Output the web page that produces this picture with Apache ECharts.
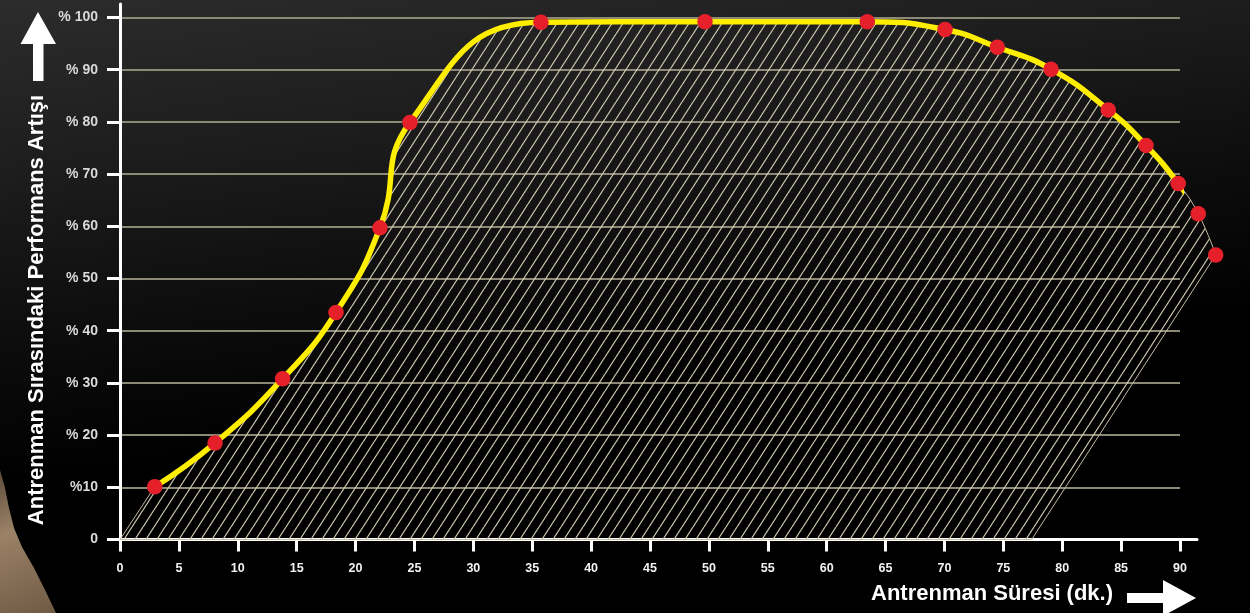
<!DOCTYPE html>
<html>
<head>
<meta charset="utf-8">
<script src="https://cdn.jsdelivr.net/npm/echarts@6/dist/echarts.min.js"></script>
<style>
html,body{margin:0;padding:0;background:#000;}
#c{width:1250px;height:613px;background:linear-gradient(172deg,#2c2c2c 0%,#1d1d1d 22%,#0c0c0c 44%,#000 62%,#000 100%);}
</style>
</head>
<body>
<div id="c"></div>
<script>
// ---- data ----
const xValues = [2.95, 8.07, 13.81, 18.34, 22.07, 24.62, 35.74, 49.67, 63.45, 70.05, 74.49, 79.05, 83.91, 87.11, 89.85, 91.55, 93.03];
const yValues = [10.1, 18.5, 30.8, 43.5, 59.7, 79.9, 99.1, 99.2, 99.2, 97.7, 94.3, 90.1, 82.3, 75.5, 68.2, 62.4, 54.5];
const xTicks = [0, 5, 10, 15, 20, 25, 30, 35, 40, 45, 50, 55, 60, 65, 70, 75, 80, 85, 90];
const yTickLabels = ['0', '%10', '% 20', '% 30', '% 40', '% 50', '% 60', '% 70', '% 80', '% 90', '% 100'];
const hatchFeet = [0, 77.41];   // where the hatched band meets the baseline (left, right)
const xTitle = 'Antrenman Süresi (dk.)';
const yTitle = 'Antrenman Sırasındaki Performans Artışı';

// ---- hatch pattern ----
function makeHatch() {
  const W = 11, H = 17;
  const c = document.createElement('canvas');
  c.width = W; c.height = H;
  const g = c.getContext('2d');
  g.strokeStyle = '#d2cab2';
  g.lineWidth = 1.2;
  [-W, 0, W].forEach(o => { g.beginPath(); g.moveTo(o, H); g.lineTo(o + W, 0); g.stroke(); });
  return c;
}
const hatch = makeHatch();

// same smoothing as ECharts line series (smooth = 0.5)
function smoothPath(p, smooth) {
  let d = 'M' + p[0][0] + ' ' + p[0][1];
  let cpx0 = p[0][0], cpy0 = p[0][1];
  let prevX = p[0][0], prevY = p[0][1];
  for (let i = 1; i < p.length; i++) {
    const x = p[i][0], y = p[i][1];
    let cpx1, cpy1, nextCpx0, nextCpy0;
    if (i === p.length - 1) { cpx1 = x; cpy1 = y; }
    else {
      const nextX = p[i + 1][0], nextY = p[i + 1][1];
      let vx = nextX - prevX, vy = nextY - prevY;
      const dx0 = x - prevX, dx1 = nextX - x, dy0 = y - prevY, dy1 = nextY - y;
      const lp = Math.sqrt(dx0 * dx0 + dy0 * dy0), ln = Math.sqrt(dx1 * dx1 + dy1 * dy1);
      const ratio = ln / (ln + lp);
      nextCpx0 = x + vx * smooth * ratio;
      nextCpy0 = y + vy * smooth * ratio;
      nextCpx0 = Math.min(nextCpx0, Math.max(nextX, x));
      nextCpy0 = Math.min(nextCpy0, Math.max(nextY, y));
      nextCpx0 = Math.max(nextCpx0, Math.min(nextX, x));
      nextCpy0 = Math.max(nextCpy0, Math.min(nextY, y));
      vx = nextCpx0 - x; vy = nextCpy0 - y;
      cpx1 = x - vx * lp / ln; cpy1 = y - vy * lp / ln;
      cpx1 = Math.min(cpx1, Math.max(prevX, x));
      cpy1 = Math.min(cpy1, Math.max(prevY, y));
      cpx1 = Math.max(cpx1, Math.min(prevX, x));
      cpy1 = Math.max(cpy1, Math.min(prevY, y));
      vx = x - cpx1; vy = y - cpy1;
      nextCpx0 = x + vx * ln / lp;
      nextCpy0 = y + vy * ln / lp;
    }
    d += ' C' + cpx0 + ' ' + cpy0 + ' ' + cpx1 + ' ' + cpy1 + ' ' + x + ' ' + y;
    cpx0 = nextCpx0; cpy0 = nextCpy0;
    prevX = x; prevY = y;
  }
  return d;
}

const chart = echarts.init(document.getElementById('c'), null, {renderer: 'canvas'});
const font = 'Liberation Sans, Arial, sans-serif';
const white = '#ffffff';

chart.setOption({
  animation: false,
  backgroundColor: 'transparent',
  grid: [
    {left: 120, right: 70, top: 17.5, bottom: 73.5},
    {left: 120, right: 53, top: 4, bottom: 73.5}
  ],
  xAxis: [
    {
      gridIndex: 0, type: 'value', min: 0, max: 90, interval: 5,
      axisLine: {lineStyle: {color: white, width: 3}},
      axisTick: {length: 12, lineStyle: {color: white, width: 3}},
      axisLabel: {color: '#f2f2f2', fontFamily: font, fontWeight: 'bold', fontSize: 12.5, margin: 23,
        formatter: v => xTicks.indexOf(v) >= 0 ? String(v) : ''},
      splitLine: {show: false}
    },
    {
      gridIndex: 1, type: 'value', min: 0, max: 100,
      axisLine: {lineStyle: {color: white, width: 3}},
      axisTick: {show: false}, axisLabel: {show: false}, splitLine: {show: false}
    }
  ],
  yAxis: [
    {
      gridIndex: 0, type: 'value', min: 0, max: 100, interval: 10,
      axisLine: {show: true, lineStyle: {color: white, width: 3}},
      axisTick: {show: true, length: 13, lineStyle: {color: white, width: 3}},
      axisLabel: {color: '#d9d9d9', fontFamily: font, fontWeight: 'bold', fontSize: 14, margin: 22,
        formatter: v => yTickLabels[Math.round(v / 10)] || ''},
      splitLine: {show: true, lineStyle: {color: '#8c8977', width: 2}}
    },
    {
      gridIndex: 1, type: 'value', min: 0, max: 100,
      axisLine: {show: true, lineStyle: {color: white, width: 3}},
      axisTick: {show: false}, axisLabel: {show: false}, splitLine: {show: false}
    }
  ],
  series: [
    {
      type: 'custom', xAxisIndex: 0, yAxisIndex: 0, silent: true, clip: false, z: 2,
      data: [0],
      renderItem: (params, api) => {
        const pts = xValues.map((x, i) => api.coord([x, yValues[i]]));
        let d = smoothPath(pts, 0.5);
        const r = api.coord([hatchFeet[1], 0]);
        const l = api.coord([hatchFeet[0], 0]);
        d += ' L' + r[0] + ' ' + r[1] + ' L' + l[0] + ' ' + l[1] + ' Z';
        return {
          type: 'path',
          shape: {pathData: d},
          style: {fill: {image: hatch, repeat: 'repeat'}, stroke: '#c4bca4', lineWidth: 1}
        };
      }
    },
    {
      type: 'line', xAxisIndex: 0, yAxisIndex: 0, silent: true, clip: false, z: 3,
      data: xValues.map((x, i) => [x, yValues[i]]),
      smooth: true,
      symbol: 'circle', symbolSize: 15.5,
      lineStyle: {color: '#ffee00', width: 5.5},
      itemStyle: {color: '#e6202a'}
    }
  ],
  graphic: [
    // decorative brown edge at bottom-left
    {type: 'polygon', silent: true, z: -1,
      shape: {points: [[0, 470], [5, 488], [9, 508], [14, 528], [22, 547], [34, 568], [46, 592], [56, 613], [0, 613]]},
      style: {fill: new echarts.graphic.LinearGradient(0, 0, 1, 1, [
        {offset: 0, color: '#5e4c3b'}, {offset: 0.4, color: '#9a8266'}, {offset: 1, color: '#6f5a45'}])}},
    // up arrow
    {type: 'polygon', silent: true,
      shape: {points: [[38, 12], [56, 44], [43.5, 44], [43.5, 81], [33, 81], [33, 44], [20.5, 44]]},
      style: {fill: white}},
    // right arrow
    {type: 'polygon', silent: true,
      shape: {points: [[1127, 593], [1163, 593], [1163, 580], [1196, 598], [1163, 616], [1163, 603], [1127, 603]]},
      style: {fill: white}},
    // axis titles
    {type: 'text', silent: true, x: 37, y: 310, rotation: Math.PI / 2,
      style: {text: yTitle, fill: white, font: 'bold 22px ' + font, align: 'center', verticalAlign: 'middle'}},
    {type: 'text', silent: true, x: 871, y: 594,
      style: {text: xTitle, fill: white, font: 'bold 22px ' + font, align: 'left', verticalAlign: 'middle'}}
  ]
});
</script>
</body>
</html>
